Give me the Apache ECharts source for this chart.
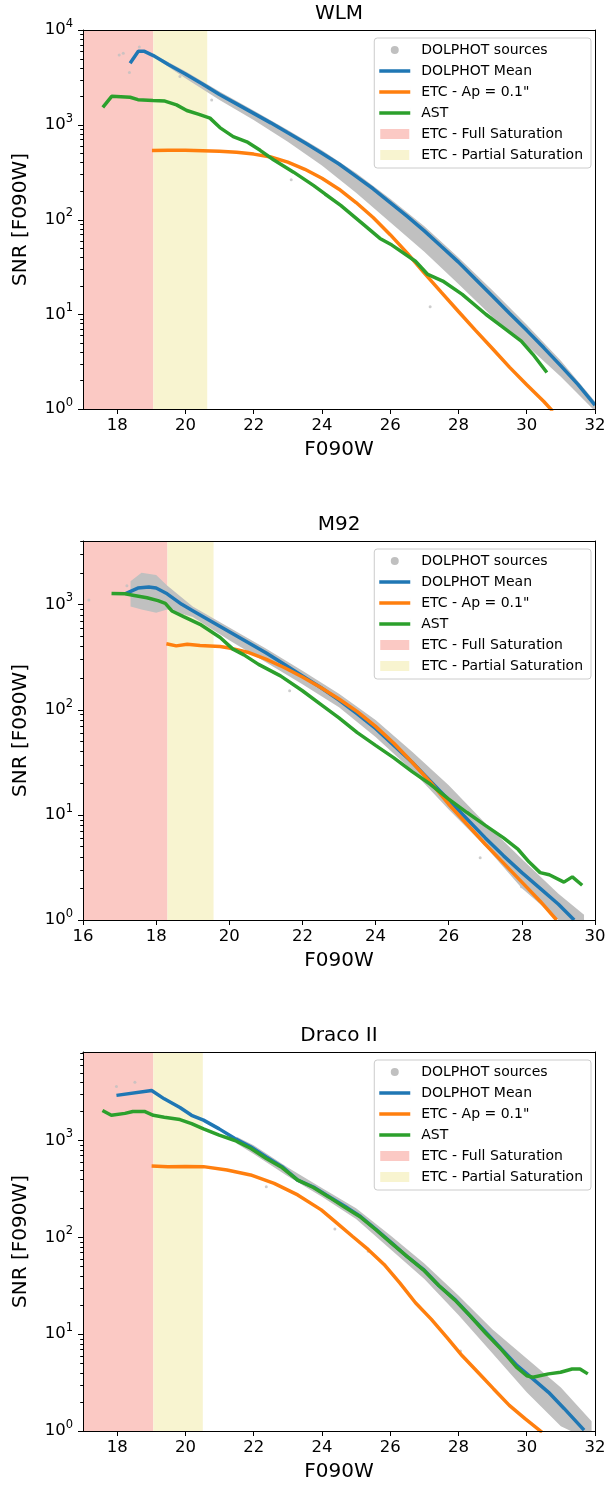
<!DOCTYPE html>
<html><head><meta charset="utf-8">
<script src="https://cdn.jsdelivr.net/npm/echarts@6/dist/echarts.min.js"></script>
<style>html,body{margin:0;padding:0;background:#fff}#c{width:615px;height:1486px}</style>
</head><body><div id="c"></div>
<script>
// ---------- axes / labels ----------
const panelTitles = ['WLM', 'M92', 'Draco II'];
const xRanges = [[17, 32], [16, 30], [17, 32]];
const yMax = [10000, 4000, 8200];
const xTicks = [[18, 20, 22, 24, 26, 28, 30, 32], [16, 18, 20, 22, 24, 26, 28, 30], [18, 20, 22, 24, 26, 28, 30, 32]];
const yMajorTicks = [1, 10, 100, 1000, 10000];
const yMinorTicks = [2,3,4,5,6,7,8,9,20,30,40,50,60,70,80,90,200,300,400,500,600,700,800,900,2000,3000,4000,5000,6000,7000,8000,9000];
const satFull = [[17, 19.06], [16, 18.31], [17, 19.06]];
const satPartial = [[19.06, 20.64], [18.31, 19.57], [19.06, 20.51]];
const legendNames = ['DOLPHOT sources', 'DOLPHOT Mean', 'ETC - Ap = 0.1"', 'AST', 'ETC - Full Saturation', 'ETC - Partial Saturation'];

// ---------- WLM ----------
const wlmMeanMag = [18.38,18.62,18.8,19.06,19.5,20,20.5,21,21.5,22,22.5,23,23.5,24,24.5,25,25.5,26,26.5,27,27.5,28,28.5,29,29.5,30,30.5,31,31.5,32];
const wlmMeanSnr = [4467,5957,5957,5370,4315,3428,2692,2089,1660,1318,1047,822,646,501,385,285,211,151,108,75.9,51.9,35.5,23.4,15.5,10.2,6.76,4.42,2.85,1.82,1.10];
const wlmEtcMag = [19.02,19.5,20,20.5,21,21.5,22,22.5,23,23.5,24,24.5,25,25.5,26,26.5,27,27.5,28,28.5,29,29.5,30,30.5,30.76];
const wlmEtcSnr = [535,537,537,533,525,513,490,457,403,339,272,209,151,105,69.2,44.2,27.2,17.0,10.7,6.76,4.32,2.75,1.80,1.20,0.95];
const wlmAstMag = [17.58,17.84,18.38,18.61,19.05,19.4,19.74,20.04,20.4,20.72,21.01,21.4,21.8,22.19,22.58,23.17,23.75,24.09,24.55,25.24,25.7,26.05,26.74,27.1,27.54,28.11,28.8,29.26,29.84,30.18,30.59];
const wlmAstSnr = [1528,1995,1950,1841,1799,1778,1622,1413,1288,1175,933,750,661,537,427,316,229,186,141,87.1,63.1,53.7,36.3,26.3,22.4,16.2,10.0,7.50,5.21,3.78,2.43];
const wlmSrcMag = [19.3,20,21,22,23,24,25,26,27,28,29,30,31,32];
const wlmSrcHigh = [5012,3673,2239,1413,881,537,309,166,85.1,39.8,17.8,7.76,3.24,1.20];
const wlmSrcLow = [4571,3090,1820,1122,661,372,191,93.3,45.7,20.9,9.33,4.68,2.19,0.95];
const wlmOutMag = [18.06,18.18,18.36,18.65,19.84,20.77,23.1,27.17];
const wlmOutSnr = [5450,5680,3550,6600,3230,1820,263,12.0];

// ---------- M92 ----------
const m92MeanMag = [17.15,17.5,17.8,18.0,18.3,18.7,19,19.5,20,20.5,21,21.5,22,22.5,23,23.5,24,24.5,25,25.5,26,26.5,27,27.5,28,28.5,29,29.43];
const m92MeanSnr = [1259,1429,1462,1429,1259,1000,871,692,550,437,347,269,209,162,123,91.2,66.1,45.7,31.6,20.9,13.8,9.12,6.03,4.07,2.82,2.00,1.41,1.00];
const m92EtcMag = [18.28,18.55,18.85,19.2,19.75,20,20.5,21,21.5,22,22.5,23,23.5,24,24.5,25,25.5,26,26.5,27,27.5,28,28.5,28.95];
const m92EtcSnr = [422,403,417,407,398,385,351,302,251,204,162,126,95.5,69.2,47.9,31.6,20.4,12.6,8.13,5.25,3.47,2.29,1.51,1.0];
const m92AstMag = [16.78,17.15,17.4,17.75,18.05,18.25,18.43,18.75,19.2,19.75,20.1,20.4,20.8,21.4,22,22.5,23,23.5,24,24.5,25,25.5,26,26.5,27,27.5,27.9,28.2,28.5,28.75,29.15,29.38,29.65];
const m92AstSnr = [1271,1259,1216,1156,1084,1023,865,764,646,484,375,331,269,209,151,112,83.2,60.3,45.7,34.7,25.7,19.5,14.1,10.5,7.94,6.03,4.68,3.55,2.82,2.69,2.29,2.57,2.14];
const m92SrcMag = [17.3,17.6,18.0,18.3,19,20,21,22,23,24,25,26,27,28,29,29.7];
const m92SrcHigh = [1660,1995,1905,1514,955,603,380,234,141,79.4,39.8,19.1,8.32,3.80,1.78,1.12];
const m92SrcLow = [955,891,832,891,759,457,282,174,105,55.0,26.3,11.2,5.01,2.0,1.0,0.89];
const m92OutMag = [16.16,17.2,21.65,26.86,27.99];
const m92OutSnr = [1100,1500,151,3.9,2.07];

// ---------- Draco II ----------
const draMeanMag = [17.98,19.01,19.38,19.84,20.18,20.53,20.99,21.45,21.91,22.37,22.83,23.29,23.75,24.21,24.67,25.13,25.59,26.05,26.5,26.97,27.43,27.89,28.34,28.8,29.26,29.72,30.18,30.64,31.1,31.68];
const draMeanSnr = [2924,3289,2692,2188,1820,1622,1318,1047,861,676,537,389,331,263,209,164,120,87.1,63.1,46.8,31.6,22.9,15.5,10.5,7.02,4.73,3.45,2.51,1.70,1.02];
const draEtcMag = [19.01,19.49,20,20.53,21.22,21.91,22.6,23.29,23.98,24.44,24.9,25.36,25.82,26.28,26.74,27.2,27.66,28.11,28.57,29.03,29.49,29.95,30.45];
const draEtcSnr = [545,537,540,537,495,441,361,274,192,140,102,74.6,52.5,33.9,21.1,14.3,9.25,5.98,4.04,2.72,1.84,1.34,0.97];
const draAstMag = [17.57,17.83,18.23,18.46,18.8,19.06,19.38,19.84,20.18,20.53,20.99,21.45,21.91,22.37,22.83,23.29,23.75,24.21,24.67,25.13,25.59,26.05,26.5,26.97,27.43,27.89,28.34,28.8,29.26,29.7,30.0,30.18,30.64,30.99,31.33,31.56,31.79];
const draAstSnr = [2042,1820,1905,1995,1995,1820,1738,1644,1496,1318,1135,1000,832,653,525,389,327,260,204,162,119,86.1,63.1,46.2,31.6,22.6,15.5,10.2,6.92,4.57,3.72,3.59,3.89,4.04,4.37,4.37,3.89];
const draSrcMag = [21.5,22,23,24,25,26,27,28,29,30,31,31.9];
const draSrcHigh = [1096,891,525,324,200,105,53.7,25.1,11.2,5.62,2.82,1.26];
const draSrcLow = [933,724,427,263,155,75.9,37.2,15.8,6.31,2.51,1.12,0.79];
const draOutMag = [18.52,17.98,22.37,24.38,25.36,28.06];
const draOutSnr = [4000,3600,333,122,72,6.7];

// ---------- build ----------
const FONT = 'DejaVu Sans';
const COL = {blue:'#1f77b4', orange:'#ff7f0e', green:'#2ca02c', gray:'#c0c0c0', pink:'#fbc9c4', yellow:'#f8f4d0'};
const GRID_TOP = [30, 541, 1052];
const GRID_H = 379, GRID_L = 83, GRID_W = 512;
const zip = (a, b) => a.map((v, i) => [v, b[i]]);
// legend handle shapes inside a 31x11 box (hairline slivers fix the box size)
const ICON_LINE = 'path://M0,0h0.01v11h-0.01z M31,0h-0.01v11h0.01z M0,3.75h31v3.5h-31z';
const ICON_DOT = 'path://M0,0h0.01v11h-0.01z M31,0h-0.01v11h0.01z M11.5,5.5a4,4 0 1,0 8,0a4,4 0 1,0 -8,0z';
const ICON_RECT = 'path://M0,0h0.01v11h-0.01z M31,0h-0.01v11h0.01z M1,0.5h29v10h-29z';

const panels = [
  {mean:[wlmMeanMag,wlmMeanSnr], etc:[wlmEtcMag,wlmEtcSnr], ast:[wlmAstMag,wlmAstSnr], src:[wlmSrcMag,wlmSrcHigh,wlmSrcLow], out:[wlmOutMag,wlmOutSnr]},
  {mean:[m92MeanMag,m92MeanSnr], etc:[m92EtcMag,m92EtcSnr], ast:[m92AstMag,m92AstSnr], src:[m92SrcMag,m92SrcHigh,m92SrcLow], out:[m92OutMag,m92OutSnr]},
  {mean:[draMeanMag,draMeanSnr], etc:[draEtcMag,draEtcSnr], ast:[draAstMag,draAstSnr], src:[draSrcMag,draSrcHigh,draSrcLow], out:[draOutMag,draOutSnr]}
];

const option = {animation:false, backgroundColor:'#fff', textStyle:{fontFamily:FONT},
  title:[], grid:[], xAxis:[], yAxis:[], legend:[], series:[]};

panels.forEach((P, i) => {
  const top = GRID_TOP[i];
  const xr = xRanges[i], ym = yMax[i];
  const xi = 2 * i, yi = 2 * i;
  option.title.push({text: panelTitles[i], left: GRID_L + GRID_W / 2, top: top - 26, textAlign: 'center', padding: 0,
    textStyle: {fontFamily: FONT, fontSize: 20, fontWeight: 'normal', color: '#000'}});
  option.grid.push({left: GRID_L, width: GRID_W, top: top, height: GRID_H});
  option.xAxis.push({gridIndex: i, type: 'value', min: xr[0], max: xr[1], position: 'bottom', z: 10,
    name: 'F090W', nameLocation: 'middle', nameGap: 31,
    nameTextStyle: {fontFamily: FONT, fontSize: 20, color: '#000'},
    axisLine: {onZero: false, lineStyle: {color: '#000', width: 1}},
    axisTick: {show: true, length: 5, lineStyle: {color: '#000'}, customValues: xTicks[i]},
    axisLabel: {fontFamily: FONT, fontSize: 16.5, color: '#000', margin: 8, customValues: xTicks[i]},
    splitLine: {show: false}});
  option.xAxis.push({gridIndex: i, type: 'value', min: xr[0], max: xr[1], position: 'top', z: 10,
    axisLine: {onZero: false, lineStyle: {color: '#000', width: 1}}, axisTick: {show: false}, axisLabel: {show: false}, splitLine: {show: false}});
  option.yAxis.push({gridIndex: i, type: 'log', logBase: 10, min: 1, max: ym, position: 'left', z: 10,
    name: 'SNR [F090W]', nameLocation: 'middle', nameGap: 52,
    nameTextStyle: {fontFamily: FONT, fontSize: 20, color: '#000'},
    axisLine: {show: true, onZero: false, lineStyle: {color: '#000', width: 1}},
    axisTick: {show: false},
    axisLabel: {margin: 10, color: '#000',
      formatter: v => { const e = Math.log10(v); if (Math.abs(e - Math.round(e)) > 1e-6 || yMajorTicks.indexOf(Math.round(v)) < 0) return ''; return '{b|10}{s|' + Math.round(e) + '}'; },
      rich: {b: {fontFamily: FONT, fontSize: 16.5, color: '#000', lineHeight: 24, verticalAlign: 'middle'},
             s: {fontFamily: FONT, fontSize: 11.5, color: '#000', lineHeight: 12, verticalAlign: 'top'}}},
    splitLine: {show: false}});
  option.yAxis.push({gridIndex: i, type: 'value', min: 0, max: 1, position: 'right', z: 10,
    axisLine: {show: true, onZero: false, lineStyle: {color: '#000', width: 1}}, axisTick: {show: false}, axisLabel: {show: false}, splitLine: {show: false}});

  option.legend.push({top: top + 8, right: 24, orient: 'vertical', selectedMode: false,
    backgroundColor: 'rgba(255,255,255,0.8)', borderColor: '#cccccc', borderWidth: 1, borderRadius: 3,
    padding: [4, 8, 5, 5], itemGap: 5, itemWidth: 31, itemHeight: 11,
    textStyle: {fontFamily: FONT, fontSize: 14, color: '#000', lineHeight: 16, padding: [0, 0, 0, 6]},
    data: [{name: legendNames[0], icon: ICON_DOT}, {name: legendNames[1], icon: ICON_LINE}, {name: legendNames[2], icon: ICON_LINE},
           {name: legendNames[3], icon: ICON_LINE}, {name: legendNames[4], icon: ICON_RECT}, {name: legendNames[5], icon: ICON_RECT}]});

  const bandRect = (range, color, name) => ({type: 'custom', name: name, xAxisIndex: xi, yAxisIndex: yi, z: 1, silent: true, clip: true,
    itemStyle: {color: color}, data: [[range[0], range[1]]],
    renderItem: (params, api) => {
      const a = api.coord([api.value(0), ym]); const b = api.coord([api.value(1), 1]);
      return {type: 'rect', shape: {x: a[0], y: a[1], width: b[0] - a[0], height: b[1] - a[1]}, style: {fill: color}};
    }});
  option.series.push(bandRect(satFull[i], COL.pink, legendNames[4]));
  option.series.push(bandRect(satPartial[i], COL.yellow, legendNames[5]));

  const src = P.src;
  option.series.push({type: 'custom', name: legendNames[0], xAxisIndex: xi, yAxisIndex: yi, z: 2, silent: true, clip: true,
    itemStyle: {color: COL.gray}, data: [[src[0][0], src[1][0]]],
    renderItem: (params, api) => {
      const pts = [];
      for (let j = 0; j < src[0].length; j++) pts.push(api.coord([src[0][j], src[1][j]]));
      for (let j = src[0].length - 1; j >= 0; j--) pts.push(api.coord([src[0][j], src[2][j]]));
      return {type: 'polygon', shape: {points: pts}, style: {fill: COL.gray}};
    }});
  option.series.push({type: 'scatter', name: legendNames[0], xAxisIndex: xi, yAxisIndex: yi, z: 2, silent: true,
    symbolSize: 3, itemStyle: {color: COL.gray}, data: zip(P.out[0], P.out[1])});

  const line = (name, d, color) => ({type: 'line', name: name, xAxisIndex: xi, yAxisIndex: yi, z: 3, silent: true,
    symbol: 'none', showSymbol: false, clip: true, data: zip(d[0], d[1]),
    lineStyle: {width: 3.5, color: color}, itemStyle: {color: color}});
  option.series.push(line(legendNames[1], P.mean, COL.blue));
  option.series.push(line(legendNames[2], P.etc, COL.orange));
  option.series.push(line(legendNames[3], P.ast, COL.green));

  // y ticks (major + minor), positioned through the log axis
  const tickData = yMajorTicks.filter(v => v <= ym).map(v => [xr[0], v, 5])
    .concat(yMinorTicks.filter(v => v <= ym).map(v => [xr[0], v, 2.8]));
  option.series.push({type: 'custom', xAxisIndex: xi, yAxisIndex: yi, z: 11, silent: true, clip: false, data: tickData,
    renderItem: (params, api) => {
      const p = api.coord([api.value(0), api.value(1)]); const len = api.value(2);
      const y = Math.round(p[1]) + 0.5;
      return {type: 'line', shape: {x1: p[0] - len, y1: y, x2: p[0], y2: y}, style: {stroke: '#000', lineWidth: 1}};
    }});
});

const chart = echarts.init(document.getElementById('c'), null, {renderer: 'canvas'});
chart.setOption(option);
</script></body></html>
